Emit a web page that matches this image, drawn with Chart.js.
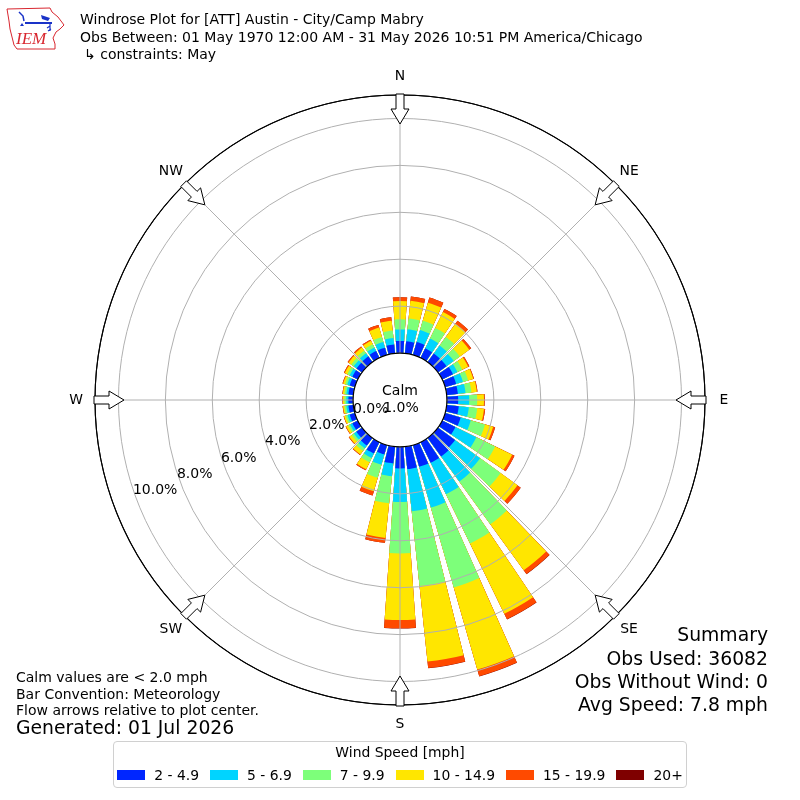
<!DOCTYPE html>
<html><head><meta charset="utf-8">
<script src="https://cdn.jsdelivr.net/npm/chart.js@4.4.1/dist/chart.umd.min.js"></script>
<style>
body{margin:0;background:#fff}
#wrap{position:relative;width:800px;height:800px;font-family:'DejaVu Sans',sans-serif;color:#000;overflow:hidden;background:#fff}
#c{position:absolute;left:0;top:0}
.t{position:absolute;white-space:nowrap;line-height:1}
#legend{position:absolute;left:113px;top:741px;width:574px;height:47px;border:1px solid #d0d0d0;border-radius:4px;box-sizing:border-box}
#legTitle{position:absolute;left:0;right:0;top:4px;text-align:center;font-size:13.9px;line-height:1}
#legItems{position:absolute;left:0;right:0;top:26px;display:flex;justify-content:center;gap:11px;font-size:13.9px;line-height:14px}
.li{display:flex;align-items:center}
.sw{display:inline-block;width:28px;height:10px;margin-right:9px}
</style></head><body>
<div id="wrap">
<canvas id="c" width="800" height="800"></canvas>
<svg style="position:absolute;left:0;top:0" width="70" height="55" viewBox="0 0 70 55">
  <path d="M7,9 L50,8 L52,12 L58,17 L64,25 L60,29 L56,32 L53,38 L55,44 L55,49 L17,49 L14,45 L12,37 L10,29 L9,21 L8,15 Z" fill="none" stroke="#d8262f" stroke-width="1"/>
  <line x1="25" y1="23" x2="52" y2="23" stroke="#1a33c8" stroke-width="2"/>
  <path d="M19,12 L23,16 L24,21" fill="none" stroke="#1a33c8" stroke-width="1.5"/>
  <path d="M20,26 L22,23 L24,26 Z" fill="#1a33c8"/>
  <path d="M41,15 L50,18 L48,21 L42,19 Z" fill="#1a33c8"/>
  <path d="M50,23 L50,31 M47,28 L50,26 M48,31 L51,29" fill="none" stroke="#1a33c8" stroke-width="1.2"/>
  <text x="16" y="44" font-family="'Liberation Serif',serif" font-style="italic" font-size="17" fill="#d8262f">IEM</text>
</svg>
<div class="t" style="left:80px;top:12px;font-size:14px">Windrose Plot for [ATT] Austin - City/Camp Mabry</div>
<div class="t" style="left:80px;top:30px;font-size:14px">Obs Between: 01 May 1970 12:00 AM - 31 May 2026 10:51 PM America/Chicago</div>
<div class="t" style="left:84px;top:47px;font-size:14px">↳ constraints: May</div>
<div class="t" style="left:16px;top:670px;font-size:14px">Calm values are &lt; 2.0 mph</div>
<div class="t" style="left:16px;top:687px;font-size:14px">Bar Convention: Meteorology</div>
<div class="t" style="left:16px;top:703px;font-size:14px">Flow arrows relative to plot center.</div>
<div class="t" style="left:16px;top:719px;font-size:18.8px">Generated: 01 Jul 2026</div>
<div class="t" style="right:32px;top:626px;font-size:18.8px;text-align:right">Summary</div>
<div class="t" style="right:32px;top:650px;font-size:18.8px;text-align:right">Obs Used: 36082</div>
<div class="t" style="right:32px;top:673px;font-size:18.8px;text-align:right">Obs Without Wind: 0</div>
<div class="t" style="right:32px;top:696px;font-size:18.8px;text-align:right">Avg Speed: 7.8 mph</div>
<div id="legend"><div id="legTitle">Wind Speed [mph]</div><div id="legItems"></div></div>
</div>
<script>
// ---- data (percent of observations) ----
const directions = [0,10,20,30,40,50,60,70,80,90,100,110,120,130,140,150,160,170,180,190,200,210,220,230,240,250,260,270,280,290,300,310,320,330,340,350];
const speedBins = ['2 - 4.9','5 - 6.9','7 - 9.9','10 - 14.9','15 - 19.9','20+'];
const binColors = ['#0026ff','#00d4ff','#7dff7a','#ffe600','#ff4a00','#7f0000'];
const pct2to5   = [0.52,0.52,0.57,0.45,0.45,0.45,0.51,0.49,0.48,0.48,0.52,0.69,0.63,0.90,0.98,0.98,0.96,0.96,0.92,0.72,0.41,0.54,0.40,0.30,0.26,0.23,0.21,0.20,0.21,0.23,0.26,0.29,0.30,0.32,0.32,0.38];
const pct5to7   = [0.49,0.51,0.53,0.47,0.42,0.38,0.21,0.30,0.33,0.47,0.43,0.45,0.99,1.32,1.32,1.49,1.81,1.81,1.43,0.55,0.46,0.21,0.15,0.13,0.11,0.10,0.09,0.09,0.09,0.11,0.13,0.15,0.16,0.17,0.25,0.28];
const pct7to10  = [0.43,0.46,0.41,0.50,0.45,0.32,0.23,0.23,0.25,0.34,0.36,0.63,0.89,1.08,2.25,2.34,3.54,3.20,2.19,1.16,0.58,0.20,0.13,0.11,0.09,0.08,0.08,0.08,0.08,0.09,0.11,0.13,0.14,0.15,0.22,0.32];
const pct10to15 = [0.78,0.76,0.80,0.75,0.70,0.50,0.28,0.23,0.23,0.29,0.29,0.36,0.81,0.89,2.42,3.33,3.64,3.24,2.84,1.48,0.60,0.33,0.19,0.13,0.10,0.07,0.06,0.06,0.07,0.09,0.12,0.14,0.16,0.17,0.42,0.42];
const pct15to20 = [0.16,0.19,0.23,0.15,0.15,0.10,0.06,0.03,0.03,0.03,0.05,0.09,0.11,0.17,0.20,0.26,0.30,0.28,0.35,0.21,0.18,0.05,0.03,0.03,0.02,0.02,0.02,0.02,0.02,0.03,0.04,0.05,0.06,0.05,0.12,0.15];
const pct20plus = [0,0,0,0,0,0,0,0,0,0,0,0,0,0,0.01,0.01,0.01,0.01,0.01,0,0,0,0,0,0,0,0,0,0,0,0,0,0,0,0,0];
const compassLabels = ['N','NE','E','SE','S','SW','W','NW'];
const ringTicks = [0,2,4,6,8,10];
const calmPercent = 1.0;

const R_MIN = -2, R_MAX = 11, BAR_DEG = 8, GAP_DEG = 2;
const bins = [pct2to5,pct5to7,pct7to10,pct10to15,pct15to20,pct20plus];

// legend (HTML)
const legItems = document.getElementById('legItems');
speedBins.forEach((s,k)=>{
  const d=document.createElement('div'); d.className='li';
  d.innerHTML='<span class="sw" style="background:'+binColors[k]+'"></span><span>'+s+'</span>';
  legItems.appendChild(d);
});

// interleave bars and gaps; cumulative stacking drawn by overlap
const labels = [];
directions.forEach(d=>{ labels.push(d+'°'); labels.push(''); });
const angles = [], datasets = [];
directions.forEach(()=>{ angles.push(BAR_DEG); angles.push(GAP_DEG); });
bins.forEach((_,k)=>{
  const data=[], colors=[];
  directions.forEach((d,i)=>{
    let cum=0; for(let j=0;j<=k;j++) cum+=bins[j][i];
    data.push(+cum.toFixed(3)); data.push(R_MIN);
    colors.push(binColors[k]); colors.push('rgba(0,0,0,0)');
  });
  datasets.push({label:speedBins[k], data, backgroundColor:colors, borderWidth:0, angle:angles});
});

const F = "'DejaVu Sans', sans-serif";
const decor = {
  id:'windroseDecor',
  afterDatasetsDraw(chart){
    const s=chart.scales.r, ctx=chart.ctx, R=s.drawingArea;
    ctx.save(); ctx.strokeStyle='#b0b0b0'; ctx.lineWidth=1;
    compassLabels.forEach((l,i)=>{
      const a=i*Math.PI/4;
      ctx.beginPath(); ctx.moveTo(s.xCenter,s.yCenter);
      ctx.lineTo(s.xCenter+Math.sin(a)*R, s.yCenter-Math.cos(a)*R); ctx.stroke();
    });
    ctx.restore();
  },
  afterDraw(chart){
    const s=chart.scales.r, ctx=chart.ctx, R=s.drawingArea, cx=s.xCenter, cy=s.yCenter;
    ctx.save();
    // outer circle
    ctx.strokeStyle='#000'; ctx.lineWidth=1.1;
    ctx.beginPath(); ctx.arc(cx,cy,R,0,Math.PI*2); ctx.stroke();
    // calm circle
    const rc=s.getDistanceFromCenterForValue(0);
    ctx.fillStyle='#fff'; ctx.beginPath(); ctx.arc(cx,cy,rc,0,Math.PI*2); ctx.fill();
    ctx.lineWidth=1.2; ctx.stroke();
    // arrows pointing to center
    compassLabels.forEach((l,i)=>{
      const a=i*Math.PI/4, ux=Math.sin(a), uy=-Math.cos(a), vx=-uy, vy=ux;
      const pts=[[R-29,0],[R-14,9],[R-14,4],[R+1,4],[R+1,-4],[R-14,-4],[R-14,-9]];
      ctx.beginPath();
      pts.forEach((p,j)=>{ const x=cx+ux*p[0]+vx*p[1], y=cy+uy*p[0]+vy*p[1]; j?ctx.lineTo(x,y):ctx.moveTo(x,y); });
      ctx.closePath(); ctx.fillStyle='#fff'; ctx.fill(); ctx.strokeStyle='#000'; ctx.lineWidth=1; ctx.stroke();
      // direction label
      ctx.fillStyle='#000'; ctx.font='13.9px '+F; ctx.textAlign='center'; ctx.textBaseline='middle';
      ctx.fillText(l, cx+ux*(R+19), cy+uy*(R+19));
    });
    // calm text
    ctx.font='14px '+F; ctx.textAlign='center'; ctx.textBaseline='middle';
    ctx.fillText('Calm', cx, cy-9);
    ctx.fillText(calmPercent.toFixed(1)+'%', cx+1, cy+8);
    // ring labels
    const th=159.7*Math.PI/180;
    ctx.textAlign='left'; ctx.textBaseline='alphabetic';
    ringTicks.forEach(v=>{
      const r=s.getDistanceFromCenterForValue(v);
      ctx.fillText(v.toFixed(1)+'%', cx+Math.cos(th)*r-3, cy+Math.sin(th)*r-3.5);
    });
    ctx.restore();
  }
};

new Chart(document.getElementById('c'), {
  type:'polarArea',
  data:{labels, datasets},
  options:{
    responsive:false, animation:false, events:[],
    layout:{padding:95},
    plugins:{legend:{display:false}, tooltip:{enabled:false}},
    scales:{r:{
      min:R_MIN, max:R_MAX, startAngle:-BAR_DEG/2,
      ticks:{display:false, stepSize:2},
      grid:{circular:true, z:1, lineWidth:1, color:c=>(c.tick && c.tick.value>=R_MAX)?'#000':'#b0b0b0'},
      angleLines:{display:false}, pointLabels:{display:false}
    }}
  },
  plugins:[decor]
});
</script>
</body></html>
